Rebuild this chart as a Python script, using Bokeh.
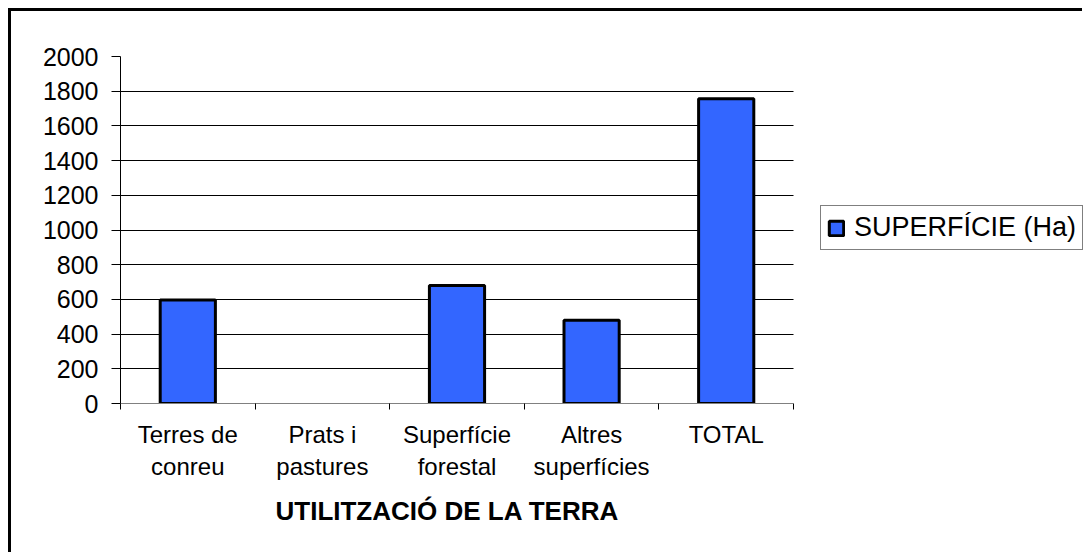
from bokeh.plotting import figure
from bokeh.models import (FixedTicker, Legend, LegendItem, Range1d, Title,
                          ColumnDataSource, CDSView, BooleanFilter, BoxAnnotation)
from bokeh.embed import file_html
from bokeh.resources import INLINE

categories = ["Terres de\nconreu", "Prats i\npastures", "Superfície\nforestal",
              "Altres\nsuperfícies", "TOTAL"]
superficie_ha = [596, 0, 680, 480, 1756]
series_name = "SUPERFÍCIE (Ha)"
y_ticks = [0, 200, 400, 600, 800, 1000, 1200, 1400, 1600, 1800, 2000]
x_title = "UTILITZACIÓ DE LA TERRA"

FONT = "Liberation Sans"

W, H = 1074, 544
LEFT, TOP, BOTTOM = 109, 45, 152
PLOT_W = 673  # width of the category area in px
n = len(categories)
frame_w = W - LEFT
x_end = n * frame_w / PLOT_W

p = figure(width=W, height=H, output_backend="svg", toolbar_location=None,
           x_range=Range1d(0, x_end), y_range=Range1d(0, 2000),
           min_border_left=LEFT, min_border_top=TOP, min_border_bottom=BOTTOM,
           min_border_right=0)
p.styles = {"border-top": "3px solid black", "border-left": "3px solid black",
            "margin-left": "8px", "margin-top": "8px"}
p.outline_line_color = None
p.background_fill_color = "white"
p.border_fill_color = "white"

xs = [i + 0.5 for i in range(n)]
src = ColumnDataSource(dict(x=xs, top=superficie_ha))
view = CDSView(filter=BooleanFilter([v > 0 for v in superficie_ha]))
r = p.vbar(x="x", top="top", width=0.41, bottom=0, source=src, view=view,
           fill_color="#3366FF", line_color="black", line_width=3)

# y axis
yax = p.yaxis[0]
yax.ticker = FixedTicker(ticks=y_ticks)
yax.major_tick_in = 0
yax.major_tick_out = 9
yax.minor_tick_line_color = None
yax.axis_line_color = "black"
yax.major_tick_line_color = "black"
yax.major_label_text_font = FONT
yax.major_label_text_font_size = "25px"
yax.major_label_text_color = "black"
yax.major_label_standoff = 13

# x axis: labels at centres, tick marks at boundaries (as minor ticks)
xax = p.xaxis[0]
xax.bounds = (0, n)
xax.ticker = FixedTicker(ticks=xs, minor_ticks=list(range(n + 1)))
xax.major_label_overrides = {x: c for x, c in zip(xs, categories)}
xax.major_tick_in = 0
xax.major_tick_out = 0
xax.minor_tick_in = 0
xax.minor_tick_out = 6
xax.minor_tick_line_color = "black"
xax.axis_line_color = "#808080"
xax.major_label_text_font = FONT
xax.major_label_text_font_size = "24px"
xax.major_label_text_color = "black"
xax.major_label_standoff = 11

p.xgrid.grid_line_color = None
p.ygrid.ticker = FixedTicker(ticks=y_ticks[1:-1])
p.ygrid.grid_line_color = "black"
p.ygrid.grid_line_width = 1

# blank out the area right of the category region (legend area)
p.add_layout(BoxAnnotation(left=n, fill_color="white", fill_alpha=1,
                           line_color=None))

title = Title(text=x_title, align="left", offset=155, standoff=22,
              text_font=FONT, text_font_size="26px", text_font_style="bold",
              text_color="black")
p.add_layout(title, "below")

legend = Legend(items=[LegendItem(label=series_name, renderers=[r])],
                location=(700, 153), padding=6, glyph_width=18, glyph_height=18,
                label_standoff=9, border_line_color="black", border_line_width=1,
                label_text_font=FONT, label_text_font_size="27px",
                label_text_color="black", background_fill_alpha=1)
p.add_layout(legend, "center")

open("out.html", "w").write(file_html(p, INLINE))
